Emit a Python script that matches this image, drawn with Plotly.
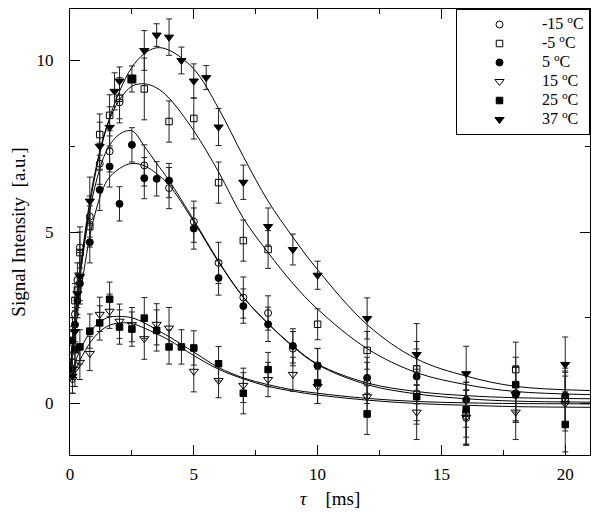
import plotly.graph_objects as go

# ---------------- data ----------------
# -15 C (open circles)
t_m15 = [0.1, 0.2, 0.3, 0.4, 0.8, 1.2, 1.6, 2.0, 3.0, 4.0, 5.0, 6.0, 7.0, 8.0, 9.0, 10, 12, 14, 16, 18, 20]
y_m15 = [1.2, 2.6, 3.6, 4.55, 5.45, 6.99, 7.35, 8.78, 6.94, 6.28, 5.3, 4.1, 3.09, 2.64, 1.6, 1.1, 0.6, 0.3, -0.42, 0.25, 0.15]
e_m15 = [0.5, 0.5, 0.5, 0.6, 0.6, 0.6, 0.6, 0.6, 0.6, 0.6, 0.6, 0.6, 0.6, 0.5, 0.5, 0.5, 0.6, 0.8, 0.8, 0.8, 0.8]

# -5 C (open squares)
t_m5 = [0.1, 0.2, 0.3, 0.4, 0.8, 1.2, 1.6, 2.0, 3.0, 4.0, 5.0, 6.0, 7.0, 8.0, 10, 12, 14, 16, 18, 20]
y_m5 = [2.0, 3.0, 3.3, 4.4, 5.16, 7.84, 8.4, 8.9, 9.17, 8.22, 8.31, 6.44, 4.75, 4.49, 2.31, 1.55, 1.01, -0.28, 0.99, 0.11]
e_m5 = [0.5, 0.5, 0.5, 0.6, 0.6, 0.6, 0.6, 0.6, 0.9, 0.6, 0.6, 0.6, 0.6, 0.55, 0.45, 0.55, 0.8, 0.9, 0.8, 0.8]

# 5 C (filled circles)
t_5 = [0.1, 0.2, 0.3, 0.4, 0.8, 1.2, 1.6, 2.0, 2.5, 3.0, 3.5, 4.0, 5.0, 6.0, 7.0, 8.0, 9.0, 10, 12, 14, 16, 18, 20]
y_5 = [1.0, 2.3, 3.0, 3.5, 4.70, 6.23, 6.91, 5.82, 7.54, 6.57, 6.55, 6.5, 5.1, 3.66, 2.84, 2.31, 1.68, 1.11, 0.75, 0.79, 0.11, 0.3, 0.23]
e_5 = [0.5, 0.5, 0.5, 0.6, 0.6, 0.6, 0.6, 0.5, 0.5, 0.6, 0.5, 0.5, 0.6, 0.5, 0.5, 0.5, 0.5, 0.5, 0.6, 0.8, 0.8, 0.8, 0.8]

# 15 C (open down-triangles)
t_15 = [0.1, 0.2, 0.4, 0.8, 1.2, 1.6, 2.0, 2.5, 3.0, 3.5, 4.0, 5.0, 6.0, 7.0, 8.0, 9.0, 10, 12, 14, 16, 18, 20]
y_15 = [0.7, 1.0, 1.2, 1.46, 2.6, 2.69, 2.4, 2.3, 1.89, 2.31, 2.2, 0.94, 0.67, 0.53, 0.7, 0.85, 0.5, 0.2, -0.25, -0.4, -0.25, 0.0]
e_15 = [0.4, 0.5, 0.5, 0.5, 0.5, 0.5, 0.5, 0.5, 0.6, 0.6, 0.6, 0.6, 0.5, 0.5, 0.5, 0.5, 0.5, 0.6, 0.8, 0.8, 0.8, 0.8]

# 25 C (filled squares)
t_25 = [0.1, 0.2, 0.4, 0.8, 1.2, 1.6, 2.0, 2.5, 3.0, 3.5, 4.0, 4.5, 5.0, 6.0, 7.0, 8.0, 10, 12, 14, 16, 18, 20]
y_25 = [1.84, 1.57, 1.65, 2.11, 2.35, 3.04, 2.23, 2.17, 2.49, 2.13, 1.65, 1.65, 1.62, 1.16, 0.3, 0.99, 0.6, -0.3, 0.2, -0.18, 0.55, -0.61]
e_25 = [0.4, 0.5, 0.5, 0.5, 0.5, 0.5, 0.5, 0.5, 0.6, 0.6, 0.5, 0.5, 0.5, 0.5, 0.6, 0.5, 0.6, 0.6, 0.8, 0.8, 0.8, 0.8]

# 37 C (filled down-triangles)
t_37 = [0.1, 0.2, 0.3, 0.4, 0.8, 1.2, 1.6, 1.8, 2.0, 2.5, 3.0, 3.5, 4.0, 4.5, 5.0, 5.5, 6.0, 7.0, 8.0, 9.0, 10, 12, 14, 16, 18, 20]
y_37 = [0.8, 2.1, 3.2, 3.7, 5.9, 7.5, 8.05, 9.1, 9.4, 9.46, 10.29, 10.74, 10.68, 10.0, 9.4, 9.5, 8.06, 6.45, 5.16, 4.49, 3.74, 2.48, 1.43, 0.87, 0.26, 1.14]
e_37 = [0.5, 0.6, 0.6, 0.7, 0.7, 0.7, 0.6, 0.54, 0.41, 0.38, 0.58, 0.33, 0.53, 0.39, 0.5, 0.35, 0.54, 0.5, 0.54, 0.45, 0.41, 0.6, 0.9, 0.8, 0.8, 0.8]

# fit curves (at these times)
t_fit = [0, 0.5, 1, 1.5, 2, 2.5, 3, 3.5, 4, 5, 6, 7, 8, 9, 10, 12, 14, 16, 18, 21]
fit_37 = [0.9, 4.3, 6.6, 8.1, 9.1, 9.8, 10.2, 10.37, 10.3, 9.75, 8.6, 7.2, 5.9, 4.85, 3.9, 2.3, 1.3, 0.8, 0.5, 0.38]
fit_m5 = [0.9, 4.4, 6.7, 8.1, 8.85, 9.25, 9.32, 9.2, 8.9, 7.95, 6.75, 5.4, 4.4, 3.5, 2.75, 1.6, 0.9, 0.55, 0.35, 0.26]
fit_5 = [0.9, 4.2, 6.3, 7.4, 7.85, 7.95, 7.5, 7.0, 6.5, 5.35, 4.15, 3.1, 2.33, 1.68, 1.15, 0.6, 0.35, 0.23, 0.17, 0.14]
fit_m15 = [0.9, 3.6, 5.5, 6.5, 6.85, 7.0, 6.93, 6.7, 6.37, 5.3, 4.12, 3.1, 2.33, 1.66, 1.13, 0.55, 0.28, 0.14, 0.07, 0.04]
fit_15 = [0.8, 1.7, 2.25, 2.5, 2.54, 2.5, 2.35, 2.15, 1.95, 1.5, 1.05, 0.75, 0.55, 0.4, 0.3, 0.15, 0.06, 0.02, 0.0, -0.01]
fit_25 = [0.65, 1.4, 1.95, 2.25, 2.35, 2.33, 2.2, 2.03, 1.85, 1.4, 1.0, 0.72, 0.5, 0.36, 0.25, 0.1, 0.0, -0.05, -0.09, -0.11]

x_ticks = [0, 5, 10, 15, 20]
y_ticks = [0, 5, 10]

FONT = "Liberation Serif"

series = [
    ("-15 <sup>o</sup>C", t_m15, y_m15, e_m15, "circle-open"),
    ("-5 <sup>o</sup>C", t_m5, y_m5, e_m5, "square-open"),
    ("5 <sup>o</sup>C", t_5, y_5, e_5, "circle"),
    ("15 <sup>o</sup>C", t_15, y_15, e_15, "triangle-down-open"),
    ("25 <sup>o</sup>C", t_25, y_25, e_25, "square"),
    ("37 <sup>o</sup>C", t_37, y_37, e_37, "triangle-down"),
]

fig = go.Figure()

for f in [fit_37, fit_m5, fit_5, fit_m15, fit_15, fit_25]:
    fig.add_trace(go.Scatter(x=t_fit, y=f, mode="lines",
                             line=dict(color="black", width=1, shape="spline", smoothing=1.0),
                             showlegend=False, hoverinfo="skip"))

for name, t, y, e, sym in series:
    symbols = sym
    if name.startswith("37"):
        symbols = ["square" if tt == 2.5 else "triangle-down" for tt in t]
    if "triangle" in sym:
        size = 8
    elif "square" in sym:
        size = 6.5
    else:
        size = 7
    fig.add_trace(go.Scatter(
        x=t, y=y, mode="markers",
        name='<span style="font-size:16px">' + name + '</span>',
        marker=dict(symbol=symbols, size=size, color="black", line=dict(color="black", width=1)),
        error_y=dict(type="data", array=e, visible=True, color="#222", thickness=1, width=3),
    ))

axis_common = dict(
    showline=True, linecolor="black", linewidth=1, mirror="ticks",
    ticks="inside", ticklen=10, tickcolor="black", tickwidth=1,
    showgrid=False, zeroline=False, automargin=False,
    tickfont=dict(family=FONT, size=17, color="black"),
)

fig.update_xaxes(range=[0, 21], tickvals=x_ticks, ticktext=[str(v) for v in x_ticks],
                 minor=dict(ticks="inside", ticklen=5, tickcolor="black", dtick=2.5, tick0=0, showgrid=False),
                 title=dict(text="<i>τ</i>&nbsp;&nbsp;&nbsp;&nbsp;[ms]", font=dict(family=FONT, size=19, color="black"), standoff=8),
                 ticklabelstandoff=4, **axis_common)
fig.update_yaxes(range=[-1.5, 11.5], tickvals=y_ticks, ticktext=[str(v) for v in y_ticks],
                 minor=dict(ticks="inside", ticklen=5, tickcolor="black", dtick=2.5, tick0=0, showgrid=False),
                 title=dict(text="Signal Intensity&nbsp;&nbsp;[a.u.]", font=dict(family=FONT, size=19, color="black"), standoff=8),
                 ticklabelstandoff=12, **axis_common)

# the page body adds an 8 px offset, so the margins are shifted to compensate
fig.update_layout(
    width=600, height=514,
    margin=dict(l=62, r=18, t=1, b=67),
    plot_bgcolor="white", paper_bgcolor="white",
    font=dict(family=FONT, size=16, color="black"),
    showlegend=True,
    legend=dict(x=1, y=1, xanchor="right", yanchor="top", bordercolor="black", borderwidth=1,
                bgcolor="white", font=dict(family=FONT, size=12.3, color="black"),
                itemwidth=75, tracegroupgap=0),
)

fig.write_html("out.html")
